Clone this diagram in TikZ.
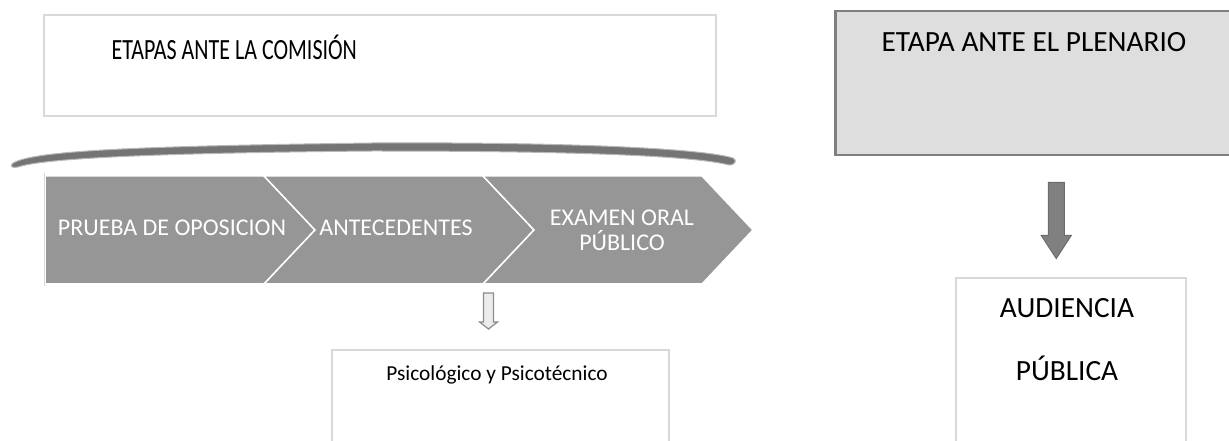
\documentclass[tikz,border=0pt]{standalone}
\usepackage{graphicx}
\usepackage{fontspec}
\setmainfont{Carlito}
\usepackage{tikz}
\usetikzlibrary{calc}
\tikzset{>=latex}
\newdimen\pxu \pxu=0.75pt
\definecolor{bordeclaro}{HTML}{D9D9D9}
\definecolor{bordeosc}{HTML}{7F7F7F}
\definecolor{rellenoplen}{HTML}{DEDEDE}
\definecolor{chevron}{HTML}{969696}
\definecolor{flecha}{HTML}{808080}
\definecolor{arco}{HTML}{747474}
\tikzset{
  caja/.style={draw=bordeclaro, line width=2\pxu, anchor=north west, inner sep=0pt},
  etapa/.style={text=white, font=\fontsize{18}{18.75}\selectfont, align=center},
  paso/.style={fill=chevron, draw=white, line width=1.5\pxu},
  bloque/.style={fill=flecha, draw=bordeosc!85!black, line width=1\pxu},
  hueca/.style={fill=gray!15, draw=bordeosc!90, line width=1.2\pxu},
}

\begin{document}
\begin{tikzpicture}[x=0.75pt, y=-0.75pt]
\useasboundingbox (0,0) rectangle (1229,441);
\clip (0,0) rectangle (1229,441);

% cajas
\node[caja, minimum width=672\pxu, minimum height=101\pxu] (comision) at (43,14) {};
\node[caja, draw=bordeosc, line width=2.5\pxu, fill=rellenoplen, minimum width=442\pxu, minimum height=144\pxu] (plenario) at (834,10) {};
\node[caja, minimum width=230\pxu, minimum height=190\pxu] (audiencia) at (955,277) {};
\node[caja, minimum width=337\pxu, minimum height=120\pxu] (psico) at (331,349) {};

\node[font=\fontsize{22}{26}\selectfont, anchor=west] (tcomision) at (107,47) {\scalebox{0.75}[1]{ETAPAS ANTE LA COMISIÓN}};
\node[font=\fontsize{22}{26}\selectfont] (tplenario) at (1034,42) {ETAPA ANTE EL PLENARIO};
\node[font=\fontsize{22}{26}\selectfont] (taudiencia) at (1067,308) {AUDIENCIA};
\node[font=\fontsize{22}{26}\selectfont] (tpublica) at (1067,368) {PÚBLICA};
\node[font=\fontsize{16}{19}\selectfont] (tpsico) at (497,375) {Psicológico y Psicotécnico};

% arco sobre las etapas
\filldraw[fill=arco, draw=gray!55, line width=1\pxu] (12,164) .. controls (28,150) and (150,146) .. (372,143)
  .. controls (560,142) and (700,148) .. (733,158) .. controls (737,160) and (736,165) .. (729,165)
  .. controls (690,155) and (560,151) .. (372,151) .. controls (160,153) and (45,158) .. (18,167)
  .. controls (13,168) and (10,167) .. (12,164) -- cycle;

% etapas
\filldraw[paso] (45,176) -- (264,176) -- (315,230) -- (264,284) -- (45,284) -- cycle;
\filldraw[paso] (264,176) -- (483,176) -- (534,230) -- (483,284) -- (264,284) -- (315,230) -- cycle;
\filldraw[paso] (483,176) -- (702,176) -- (753,230) -- (702,284) -- (483,284) -- (534,230) -- cycle;
\draw[bordeclaro, line width=1\pxu] (44,173) -- (44,286);
\node[etapa] (prueba) at (172,228) {PRUEBA DE OPOSICION};
\node[etapa] (antecedentes) at (396,228) {ANTECEDENTES};
\node[etapa] (examen) at (622,230) {EXAMEN ORAL\\PÚBLICO};

% flechas
\filldraw[hueca] ($(psico.north)+(-17,-56)$) -- ++(10,0) -- ++(0,29) -- ++(4,0) -- ++(-9,7) -- ++(-9,-7) -- ++(4,0) -- cycle;
\filldraw[bloque] ($(plenario.south)+(-8,26)$) -- ++(16,0) -- ++(0,53) -- ++(7,0) -- ++(-15,23) -- ++(-15,-23) -- ++(7,0) -- cycle;

\end{tikzpicture}
\end{document}
